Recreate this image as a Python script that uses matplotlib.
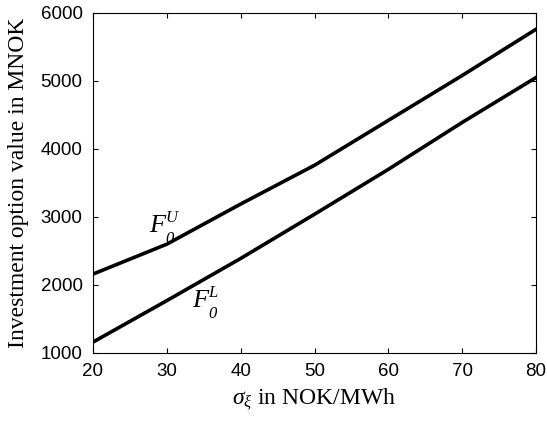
import matplotlib
matplotlib.use("Agg")
import matplotlib.pyplot as plt

plt.rcParams["mathtext.fontset"] = "custom"
plt.rcParams["mathtext.rm"] = "Liberation Serif"
plt.rcParams["mathtext.it"] = "Liberation Serif:italic"
plt.rcParams["mathtext.bf"] = "Liberation Serif:bold"

sigma = [20, 30, 40, 50, 60, 70, 80]
F_upper = [2160, 2600, 3190, 3760, 4420, 5080, 5760]
F_lower = [1160, 1770, 2390, 3040, 3700, 4390, 5050]
xticks = [20, 30, 40, 50, 60, 70, 80]
yticks = [1000, 2000, 3000, 4000, 5000, 6000]

fig = plt.figure(figsize=(5.47, 4.23), dpi=100)
ax = fig.add_axes([0.170, 0.1655, 0.810, 0.804])
ax.plot(sigma, F_upper, color="black", lw=2.6)
ax.plot(sigma, F_lower, color="black", lw=2.6)
ax.set_xlim(20, 80)
ax.set_ylim(1000, 6000)
ax.set_xticks(xticks)
ax.set_yticks(yticks)
for s in ax.spines.values():
    s.set_linewidth(0.8)
ax.tick_params(direction="in", top=True, right=True, length=3.5, width=0.8,
               labelsize=13.5)
ax.tick_params(axis="y", pad=7.5)
ax.tick_params(axis="x", pad=7)
for lab in ax.get_xticklabels() + ax.get_yticklabels():
    lab.set_family("Liberation Sans")
serif = "Liberation Serif"
ax.set_xlabel(r"$\sigma_{\xi}$ in NOK/MWh", family=serif, fontsize=17, labelpad=5)
ax.set_ylabel("Investment option value in MNOK", family=serif, fontsize=17, labelpad=8)


def flabel(x, y, sup):
    kw = dict(family=serif, style="italic", textcoords="offset points", va="baseline")
    ax.annotate("F", xy=(x, y), xytext=(0, 0), fontsize=19, **kw)
    ax.annotate("0", xy=(x, y), xytext=(11.5, -8), fontsize=12, **kw)
    ax.annotate(sup, xy=(x, y), xytext=(11.5, 7.5), fontsize=12, **kw)


flabel(27.6, 2780, "U")
flabel(33.4, 1676, "L")
fig.savefig("out.png", dpi=100)
